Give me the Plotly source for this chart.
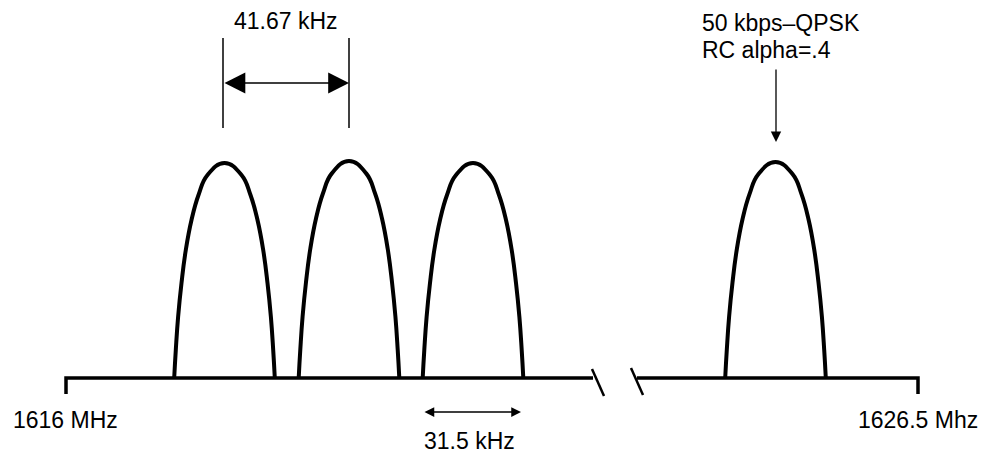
import plotly.graph_objects as go

# ---- data (diagram units: x to the right, y up from the baseline) ----
carrier_centers = [224.5, 349, 473, 775.5]
carrier_peaks = [215, 217, 215, 216]

# half profile of one carrier spectrum (left side)
profile_offset = [-50.3, -48.7, -46.4, -43, -38.7, -33, -26, -17, 0]
profile_height = [0, 28, 61, 95, 128, 158, 183, 203, 215]

# frequency axis, broken between the two groups
axis_left_x = [66, 66, 593]
axis_left_y = [-16, 0, 0]
axis_right_x = [637, 918, 918]
axis_right_y = [0, 0, -16]
break_marks = [([592, 604], [9, -18]), ([631, 643], [10, -17])]

# channel spacing dimension
spacing_x = [223, 349]
spacing_ext_y = [250, 340]
spacing_arrow_y = 295
spacing_label = "41.67 kHz"

# bandwidth dimension
bw_x = [423, 521]
bw_arrow_y = -34
bw_label = "31.5 kHz"

edge_labels = ["1616 MHz", "1626.5 Mhz"]
mod_labels = ["50 kbps\u2013QPSK", "RC alpha=.4"]

FONT = "Liberation Sans, Arial, sans-serif"

fig = go.Figure()

#_____________ carrier spectra _____________
for c, pk in zip(carrier_centers, carrier_peaks):
    xs = [c + o for o in profile_offset] + [c - o for o in reversed(profile_offset[:-1])]
    hs = profile_height + list(reversed(profile_height[:-1]))
    ys = [h * pk / profile_height[-1] for h in hs]
    fig.add_trace(go.Scatter(x=xs, y=ys, mode="lines",
                             line=dict(color="black", width=4, shape="spline", smoothing=1.3),
                             hoverinfo="skip", showlegend=False))

#_____________ baseline axis _____________
for xs, ys in [(axis_left_x, axis_left_y), (axis_right_x, axis_right_y)]:
    fig.add_trace(go.Scatter(x=xs, y=ys, mode="lines",
                             line=dict(color="black", width=3.5),
                             hoverinfo="skip", showlegend=False))
for xs, ys in break_marks:
    fig.add_trace(go.Scatter(x=xs, y=ys, mode="lines",
                             line=dict(color="black", width=2.5),
                             hoverinfo="skip", showlegend=False))

#_____________ spacing extension lines _____________
for x in spacing_x:
    fig.add_trace(go.Scatter(x=[x, x], y=spacing_ext_y, mode="lines",
                             line=dict(color="black", width=1.5),
                             hoverinfo="skip", showlegend=False))

# double arrows
fig.add_annotation(x=spacing_x[1], y=spacing_arrow_y, ax=spacing_x[0], ay=spacing_arrow_y,
                   xref="x", yref="y", axref="x", ayref="y", text="",
                   showarrow=True, arrowside="end+start", arrowhead=2, startarrowhead=2,
                   arrowsize=3.2, startarrowsize=3.2, arrowwidth=1.3, arrowcolor="black")
fig.add_annotation(x=bw_x[1], y=bw_arrow_y, ax=bw_x[0], ay=bw_arrow_y,
                   xref="x", yref="y", axref="x", ayref="y", text="",
                   showarrow=True, arrowside="end+start", arrowhead=2, startarrowhead=2,
                   arrowsize=1.5, startarrowsize=1.5, arrowwidth=1.3, arrowcolor="black")

# pointer to the last carrier
fig.add_annotation(x=776, y=236, ax=776, ay=310,
                   xref="x", yref="y", axref="x", ayref="y", text="",
                   showarrow=True, arrowhead=2, arrowsize=1.6, arrowwidth=1.3, arrowcolor="black")

#_____________ labels _____________
def label(x, y, text, anchor="center"):
    fig.add_annotation(x=x, y=y, xref="x", yref="y", text=text, showarrow=False,
                       xanchor=anchor, yanchor="middle",
                       font=dict(family=FONT, size=23, color="black"))

label(286, 357, spacing_label)
label(469, -63, bw_label)
label(11, -42, edge_labels[0], "left")
label(980, -42, edge_labels[1], "right")
label(700, 355, mod_labels[0], "left")
label(700, 328, mod_labels[1], "left")

fig.update_layout(width=981, height=458, margin=dict(l=0, r=0, t=0, b=0),
                  paper_bgcolor="white", plot_bgcolor="white",
                  xaxis=dict(range=[0, 981], visible=False, fixedrange=True),
                  yaxis=dict(range=[-80, 378], visible=False, fixedrange=True),
                  showlegend=False)

fig.write_html("out.html", config={"displayModeBar": False},
               post_script="document.body.style.margin='0px';")
